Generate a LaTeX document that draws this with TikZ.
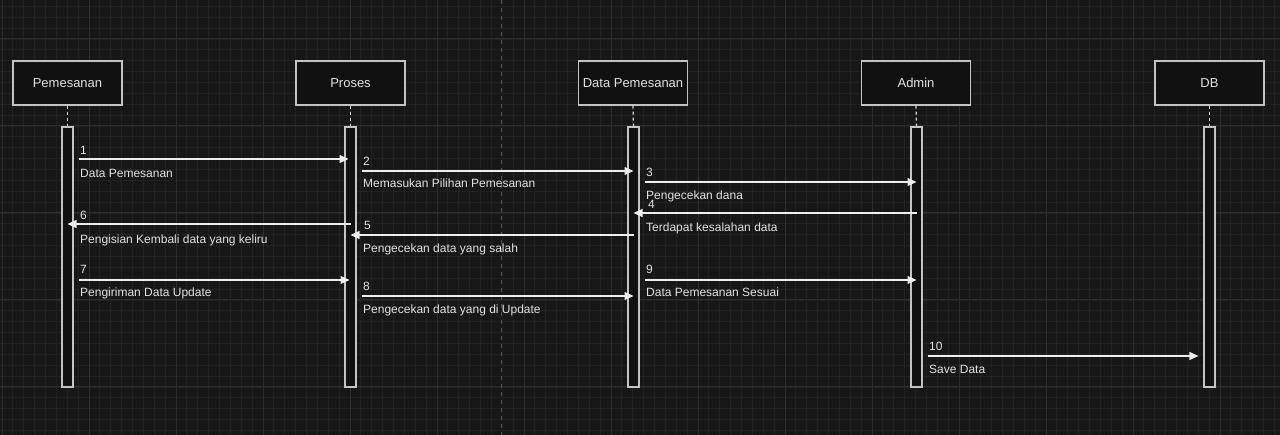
\documentclass[tikz,border=0pt]{standalone}
\usepackage{fontspec}
\setmainfont{Liberation Sans}
\usetikzlibrary{arrows.meta,calc}
\definecolor{bgc}{HTML}{171717}
\definecolor{minorc}{HTML}{212121}
\definecolor{majorc}{HTML}{2E2E2E}
\definecolor{boxfill}{HTML}{111111}
\definecolor{boxline}{HTML}{C4C4C4}
\definecolor{txt}{HTML}{E2E2E2}
\definecolor{arrc}{HTML}{EDEDED}
\tikzset{
  header/.style={draw=boxline,fill=boxfill,line width=1.2pt,minimum width=109pt,minimum height=44pt,inner sep=0pt,text=txt,font=\fontsize{13pt}{15pt}\selectfont},
  actbar/.style={draw=boxline,fill=boxfill,line width=1.2pt,minimum width=11pt,minimum height=260pt,inner sep=0pt},
  lifeline/.style={draw=boxline!80,line width=1.2pt,dash pattern=on 3pt off 3pt},
  msg/.style={draw=arrc,line width=1.2pt,-{Triangle[length=9pt,width=8pt]}},
  lbl/.style={anchor=base west,inner sep=0pt,text=txt,font=\fontsize{12pt}{14pt}\selectfont},
}
\begin{document}
\begin{tikzpicture}[x=1pt,y=-1pt]
\fill[bgc] (0,0) rectangle (1280,435);
\useasboundingbox (0,0) rectangle (1280,435);
% grid
\foreach \i in {0,...,117} {\draw[minorc,line width=0.8pt] ({2+10.875*\i},0) -- ({2+10.875*\i},435);}
\foreach \j in {0,...,39} {\draw[minorc,line width=0.8pt] (0,{6.375+10.875*\j}) -- (1280,{6.375+10.875*\j});}
\foreach \i in {0,...,14} {\draw[majorc,line width=1pt] ({2+87*\i},0) -- ({2+87*\i},435);}
\foreach \j in {0,...,4} {\draw[majorc,line width=1pt] (0,{39+87*\j}) -- (1280,{39+87*\j});}
\draw[color=white!25!bgc,line width=1pt,dash pattern=on 4pt off 4pt] (501,0) -- (501,435);
% headers
\node[header] (h1) at (67.5,83) {Pemesanan};
\node[header] (h2) at (350.5,83) {Proses};
\node[header] (h3) at (633,83) {Data Pemesanan};
\node[header] (h4) at (916,83) {Admin};
\node[header] (h5) at (1209.5,83) {DB};
% activation bars
\node[actbar] (b1) at (67.5,257) {};
\node[actbar] (b2) at (350.5,257) {};
\node[actbar] (b3) at (633.5,257) {};
\node[actbar] (b4) at (916.5,257) {};
\node[actbar] (b5) at (1209.5,257) {};
\foreach \k in {1,...,5} {\draw[lifeline] (h\k.south) -- (b\k.north);}
% messages
\draw[msg] ($(b1.east|-0,159)+(5,0)$) -- ($(b2.center|-0,159)+(-2,0)$);
\draw[msg] ($(b2.east|-0,171)+(5,0)$) -- (b3.center|-0,171);
\draw[msg] ($(b3.east|-0,182)+(5,0)$) -- (b4.center|-0,182);
\draw[msg] (b4.center|-0,213) -- (b3.center|-0,213);
\draw[msg] (b3.center|-0,235) -- (b2.center|-0,235);
\draw[msg] (b2.center|-0,224) -- (b1.center|-0,224);
\draw[msg] ($(b1.east|-0,280)+(5,0)$) -- ($(b2.center|-0,280)+(-1,0)$);
\draw[msg] ($(b2.east|-0,296)+(5,0)$) -- (b3.center|-0,296);
\draw[msg] ($(b3.east|-0,280)+(5,0)$) -- (b4.center|-0,280);
\draw[msg] ($(b4.east|-0,356)+(5,0)$) -- ($(b5.west|-0,356)+(-5,0)$);
% labels
\node[lbl] (n1) at (80,154.3) {1};
\node[lbl] (t1) at (80,177.3) {Data Pemesanan};
\node[lbl] (n2) at (363,165.3) {2};
\node[lbl] (t2) at (363,187.3) {Memasukan Pilihan Pemesanan};
\node[lbl] (n3) at (646,176.3) {3};
\node[lbl] (t3) at (646,199.3) {Pengecekan dana};
\node[lbl] (n4) at (648,208.3) {4};
\node[lbl] (t4) at (646,231.3) {Terdapat kesalahan data};
\node[lbl] (n5) at (364,229.3) {5};
\node[lbl] (t5) at (363,252.3) {Pengecekan data yang salah};
\node[lbl] (n6) at (80,219.3) {6};
\node[lbl] (t6) at (80,243.3) {Pengisian Kembali data yang keliru};
\node[lbl] (n7) at (80,273.3) {7};
\node[lbl] (t7) at (80,296.3) {Pengiriman Data Update};
\node[lbl] (n8) at (363,290.3) {8};
\node[lbl] (t8) at (363,313.3) {Pengecekan data yang di Update};
\node[lbl] (n9) at (646,273.3) {9};
\node[lbl] (t9) at (646,296.3) {Data Pemesanan Sesuai};
\node[lbl] (n10) at (929,350.3) {10};
\node[lbl] (t10) at (929,373.3) {Save Data};
\end{tikzpicture}
\end{document}
